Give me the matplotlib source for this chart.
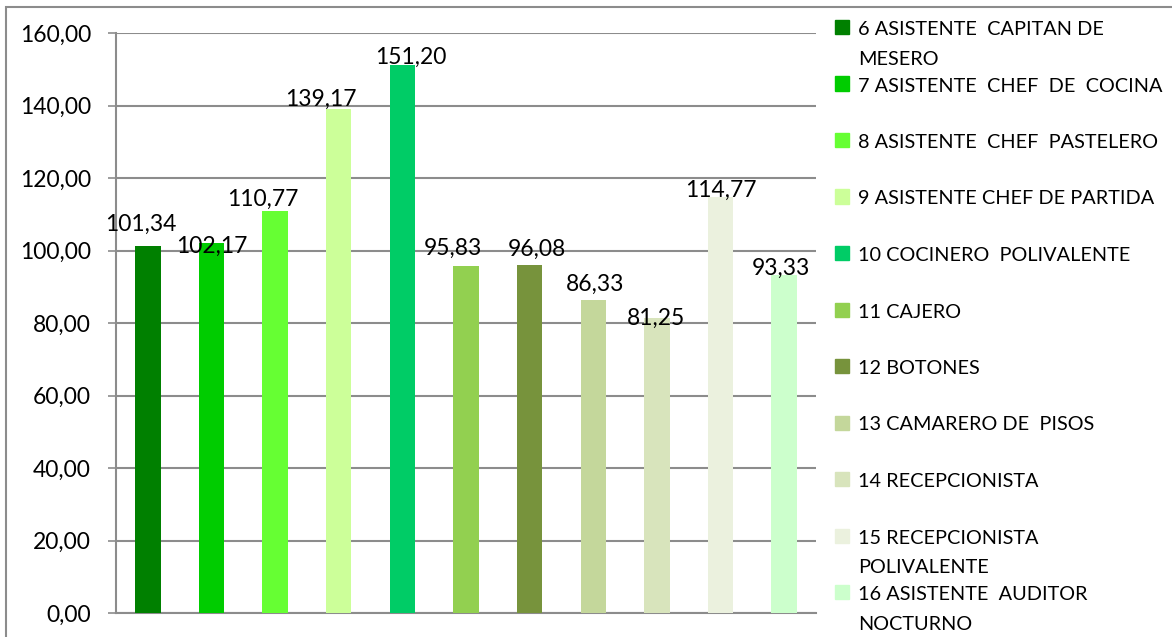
import matplotlib.pyplot as plt
from matplotlib.patches import Rectangle
from matplotlib.ticker import FuncFormatter

plt.rcParams['font.family'] = ['Lato', 'DejaVu Sans']

# data
puestos = [
    "6 ASISTENTE  CAPITAN DE\nMESERO",
    "7 ASISTENTE  CHEF  DE  COCINA",
    "8 ASISTENTE  CHEF  PASTELERO",
    "9 ASISTENTE CHEF DE PARTIDA",
    "10 COCINERO  POLIVALENTE",
    "11 CAJERO",
    "12 BOTONES",
    "13 CAMARERO DE  PISOS",
    "14 RECEPCIONISTA",
    "15 RECEPCIONISTA\nPOLIVALENTE",
    "16 ASISTENTE  AUDITOR\nNOCTURNO",
]
valores = [101.34, 102.17, 110.77, 139.17, 151.20, 95.83, 96.08, 86.33, 81.25, 114.77, 93.33]
colores = ['#008000', '#00CC00', '#66FF33', '#CCFF99', '#00CC66', '#92D050',
           '#77933C', '#C4D79B', '#D8E4BC', '#EBF1DE', '#CCFFCC']

# label offsets (pixels) as placed in the original
label_dx = [-7.5, 0, -12.5, -18, 8, -13, 7, 2, -1, 0, -3]
label_dy = [21.6, -3.4, 12.5, 9, 8, 17.6, 15.7, 16, 0.5, 7, 6.7]

fig = plt.figure(figsize=(11.72, 6.37), dpi=100)
ax = fig.add_axes([116/1172, 1 - 613/637, 700/1172, 580/637])

x = list(range(len(valores)))
ax.bar(x, valores, width=0.4, color=colores, zorder=3)

for i, v in enumerate(valores):
    ax.annotate(f"{v:.2f}".replace('.', ','), (i, v),
                xytext=(label_dx[i], label_dy[i]), textcoords='offset pixels',
                ha='center', va='center', fontsize=16.5, zorder=4)

ax.set_xlim(-0.5, len(valores) - 0.5)
ax.set_ylim(0, 160)
ax.set_yticks(range(0, 161, 20))
ax.yaxis.set_major_formatter(FuncFormatter(lambda v, p: f"{v:.2f}".replace('.', ',')))
ax.set_xticks([])
ax.grid(axis='y', color='#8C8C8C', linewidth=1.5, zorder=0)
ax.tick_params(axis='y', length=6, width=1.2, color='#8C8C8C', pad=12, labelsize=16.5)
for s in ['top', 'right']:
    ax.spines[s].set_visible(False)
for s in ['left', 'bottom']:
    ax.spines[s].set_color('#8C8C8C')
    ax.spines[s].set_linewidth(1.5)

# legend drawn by hand (entries evenly spaced, marker on first line)
for i, (nombre, c) in enumerate(zip(puestos, colores)):
    yc = 27 + i * 56.5
    fig.patches.append(Rectangle((835/1172, 1 - (yc + 7)/637), 14/1172, 14/637,
                                 transform=fig.transFigure, color=c))
    fig.text(858/1172, 1 - (yc - 6)/637, nombre, ha='left', va='top',
             fontsize=14.3, linespacing=1.9)

# outer chart frame
fig.patches.append(Rectangle((6/1172, -0.1), 1.2, 1 - 7/637 + 0.1, transform=fig.transFigure,
                             fill=False, edgecolor='#8C8C8C', linewidth=1.5))

fig.savefig("out.png", dpi=100)
